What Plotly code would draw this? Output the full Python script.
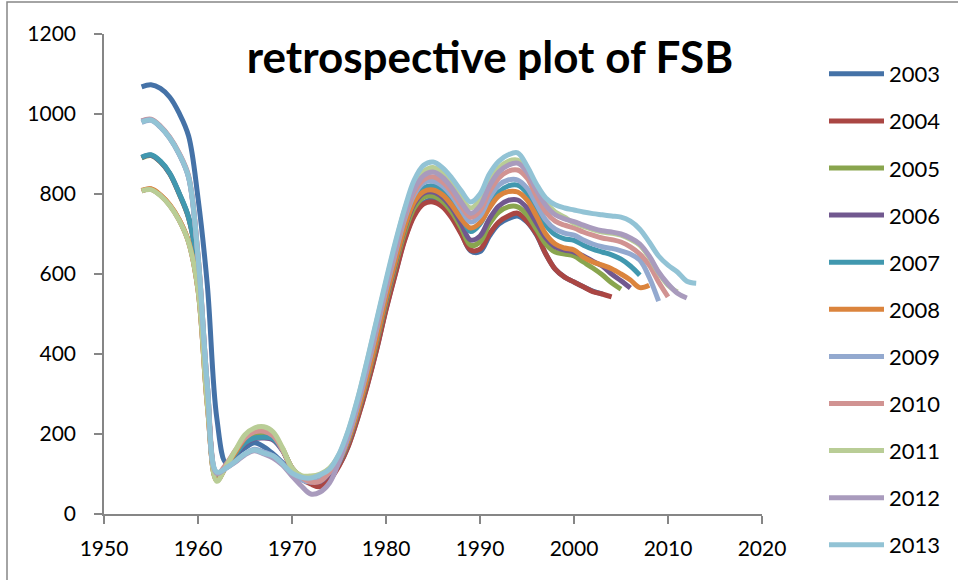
import plotly.graph_objects as go

# Retrospective estimates of FSB, one run per assessment year (1954 .. run year)
first_year = 1954

fsb_2003 = [1068, 1073, 1064, 1042, 1002, 945,
            790, 570, 240, 128, 148, 165, 178, 168, 150, 128,
            105, 90, 80, 78, 92, 122, 172, 242, 322, 412,
            512, 602, 688, 748, 778, 785, 773, 745, 703, 658,
            656, 695, 725, 738, 745, 730, 698, 650, 612, 592,
            580, 568, 557, 550]
fsb_2004 = [808, 812, 797, 772, 735, 680,
            560, 270, 84, 120, 155, 192, 208, 210, 198, 162,
            112, 88, 75, 68, 85, 120, 170, 240, 320, 410,
            510, 600, 685, 745, 775, 780, 768, 740, 700, 660,
            662, 700, 730, 745, 752, 732, 700, 650, 612, 592,
            580, 568, 556, 550, 543]
fsb_2005 = [890, 896, 880, 850, 800, 740,
            610, 300, 92, 120, 152, 182, 195, 200, 192, 162,
            115, 92, 82, 84, 102, 128, 180, 252, 335, 428,
            528, 620, 705, 765, 792, 795, 782, 755, 715, 672,
            680, 725, 755, 768, 768, 748, 712, 675, 655, 650,
            645, 630, 615, 598, 578, 562]
fsb_2006 = [891, 897, 881, 851, 801, 741,
            612, 300, 92, 118, 148, 175, 188, 190, 185, 158,
            112, 90, 80, 82, 100, 128, 182, 255, 340, 435,
            535, 628, 715, 775, 802, 805, 792, 765, 725, 685,
            695, 738, 770, 784, 785, 765, 728, 690, 668, 660,
            655, 645, 632, 620, 600, 583, 565]
fsb_2007 = [892, 898, 882, 852, 802, 742,
            612, 300, 92, 118, 150, 178, 190, 192, 188, 160,
            115, 92, 82, 85, 105, 132, 186, 260, 345, 440,
            542, 636, 722, 785, 815, 820, 808, 782, 745, 706,
            725, 770, 805, 820, 822, 802, 760, 722, 698, 688,
            684, 672, 662, 655, 648, 637, 620, 597]
fsb_2008 = [809, 813, 798, 773, 736, 681,
            562, 272, 84, 120, 155, 190, 210, 212, 200, 162,
            115, 92, 82, 84, 105, 132, 186, 258, 343, 438,
            540, 632, 718, 780, 806, 810, 798, 772, 738, 715,
            728, 765, 795, 806, 805, 785, 745, 700, 675, 665,
            660, 642, 630, 622, 613, 600, 585, 566, 572]
fsb_2009 = [979, 984, 967, 939, 899, 841,
            642, 318, 102, 115, 132, 150, 162, 155, 145, 125,
            100, 85, 80, 85, 105, 138, 195, 272, 362, 460,
            560, 652, 738, 798, 828, 832, 820, 795, 760, 730,
            745, 790, 822, 835, 835, 815, 775, 735, 712, 702,
            697, 685, 675, 668, 664, 658, 650, 635, 592, 532]
fsb_2010 = [983, 987, 970, 942, 902, 845,
            648, 320, 100, 125, 160, 190, 205, 207, 195, 160,
            115, 92, 80, 82, 105, 140, 198, 276, 368, 466,
            566, 658, 744, 804, 836, 843, 830, 805, 770, 742,
            758, 805, 840, 857, 860, 840, 795, 755, 732, 722,
            715, 705, 697, 690, 686, 680, 668, 650, 622, 580, 543]
fsb_2011 = [808, 811, 796, 771, 734, 679,
            560, 270, 82, 120, 160, 198, 215, 218, 205, 165,
            115, 96, 95, 100, 115, 148, 208, 288, 382, 482,
            580, 675, 762, 822, 856, 866, 852, 825, 790, 765,
            785, 830, 865, 882, 885, 862, 820, 780, 755, 742,
            727, 719, 711, 705, 702, 697, 687, 672, 642, 603, 572, 555]
fsb_2012 = [982, 986, 968, 940, 900, 842,
            645, 320, 102, 115, 130, 148, 158, 150, 140, 122,
            95, 70, 50, 55, 78, 130, 195, 276, 370, 470,
            572, 664, 750, 812, 846, 855, 842, 815, 780, 752,
            770, 820, 855, 872, 877, 855, 810, 772, 748, 738,
            731, 722, 714, 708, 705, 700, 690, 675, 645, 605, 575, 552, 540]
fsb_2013 = [980, 985, 968, 940, 900, 842,
            645, 320, 105, 115, 132, 150, 160, 152, 145, 125,
            102, 92, 90, 98, 112, 150, 210, 290, 385, 485,
            585, 680, 765, 835, 872, 880, 866, 840, 808, 780,
            800, 850, 882, 898, 903, 870, 825, 790, 773, 765,
            760, 755, 751, 748, 745, 742, 732, 712, 680, 645, 622, 605, 582, 577]

run_labels = ["2003", "2004", "2005", "2006", "2007", "2008",
              "2009", "2010", "2011", "2012", "2013"]
runs = [fsb_2003, fsb_2004, fsb_2005, fsb_2006, fsb_2007, fsb_2008,
        fsb_2009, fsb_2010, fsb_2011, fsb_2012, fsb_2013]
run_colors = ["#4572A7", "#AA4643", "#89A54E", "#71588F", "#4198AF", "#DB843D",
              "#93A9CF", "#D19392", "#B9CD96", "#A99BBD", "#92C3D5"]

x_ticks = [1950, 1960, 1970, 1980, 1990, 2000, 2010, 2020]

FONT = "Lato, Carlito, Calibri, sans-serif"
AXIS_GREY = "#868686"

fig = go.Figure()
for label, values, color in zip(run_labels, runs, run_colors):
    years = list(range(first_year, first_year + len(values)))
    fig.add_trace(go.Scatter(
        x=years, y=values, name=label, mode="lines",
        line=dict(color=color, width=5, shape="spline", smoothing=1.0),
        legendgroup=label,
    ))

# plot area in pixels: left 104, right 762, top 34, bottom 514
L, R, T, B = 104, 762, 34, 514
W, H = 958, 580
pw, ph = R - L, B - T

fig.update_layout(
    width=W, height=H,
    margin=dict(l=L, r=W - R, t=T, b=H - B, pad=0, autoexpand=False),
    paper_bgcolor="white", plot_bgcolor="white",
    font=dict(family=FONT, color="black"),
    title=dict(text="<b>retrospective plot of FSB</b>",
               x=490 / W, xanchor="center", y=1 - 58 / H, yanchor="middle",
               font=dict(family=FONT, size=44, color="black")),
    xaxis=dict(range=[1950, 2020], tickvals=x_ticks, showline=True,
               linecolor=AXIS_GREY, linewidth=1.5, ticks="outside", ticklen=8,
               tickcolor=AXIS_GREY, tickwidth=1.5, showgrid=False, zeroline=False,
               tickfont=dict(size=21), ticklabelstandoff=7),
    yaxis=dict(range=[0, 1200], dtick=200, tick0=0, showline=True,
               linecolor=AXIS_GREY, linewidth=1.5, ticks="outside", ticklen=8,
               tickcolor=AXIS_GREY, tickwidth=1.5, showgrid=False, zeroline=False,
               tickfont=dict(size=21), ticklabelstandoff=14),
    legend=dict(x=(824 - L) / pw, y=(B - 53) / ph, xanchor="left", yanchor="top",
                font=dict(size=22), tracegroupgap=15.5, itemwidth=55,
                bgcolor="rgba(0,0,0,0)", borderwidth=0, maxheight=575),
    showlegend=True,
    shapes=[dict(type="rect", xref="paper", yref="paper",
                 x0=(7 - L) / pw, x1=(W + 20 - L) / pw,
                 y0=(B - (H + 20)) / ph, y1=(B - 2) / ph,
                 line=dict(color=AXIS_GREY, width=1.5), fillcolor="rgba(0,0,0,0)",
                 layer="below")],
)

fig.write_html("out.html")
